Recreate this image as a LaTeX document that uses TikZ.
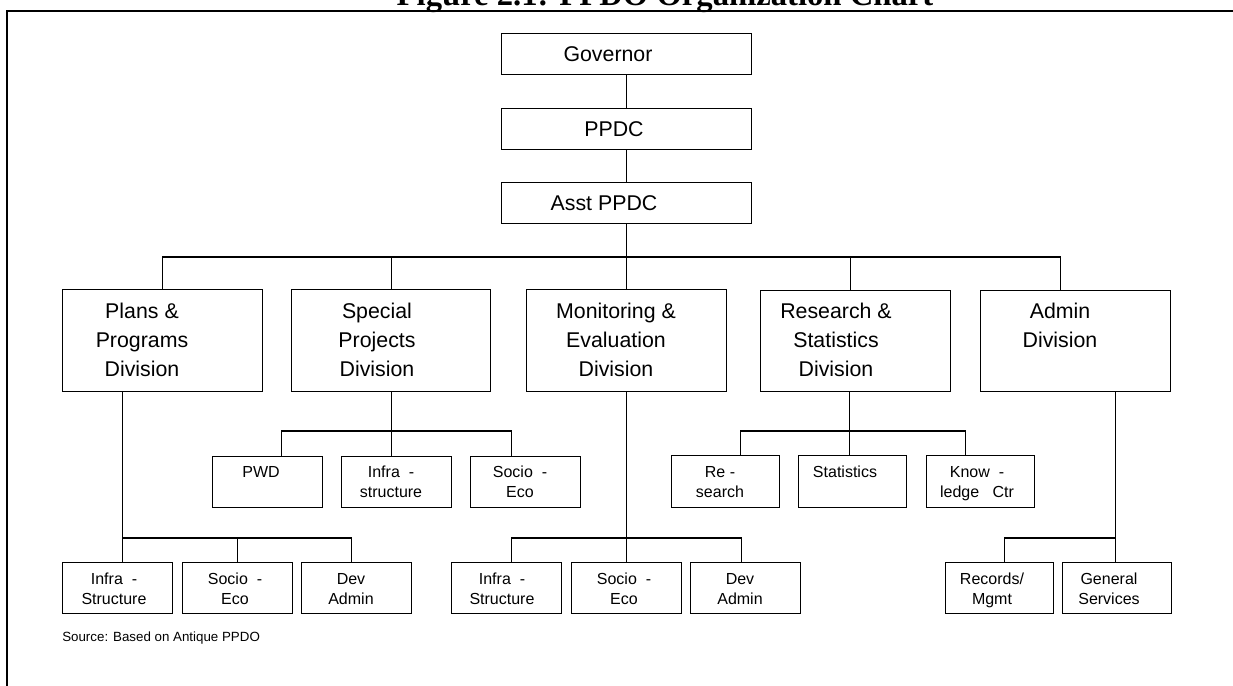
\documentclass[tikz,border=0pt]{standalone}
\usepackage{fontspec}
\setmainfont{Liberation Sans}
\newfontfamily\titlefont{Liberation Serif}
\begin{document}
\begin{tikzpicture}[x=0.75pt,y=-0.75pt,
  box/.style={draw,line width=0.8pt,inner sep=0pt,anchor=north west},
  toptxt/.style={inner sep=0pt,anchor=center,font=\fontsize{16}{22}\selectfont},
  divtxt/.style={inner sep=0pt,anchor=north,align=center,font=\fontsize{16}{22}\selectfont},
  subtxt/.style={inner sep=0pt,anchor=north,align=center,font=\fontsize{12}{15}\selectfont},
  link/.style={line width=0.8pt},
]
\newcommand\orgbox[5]{\node[box,minimum width={(#4-#2)*0.75pt},minimum height={(#5-#3)*0.75pt}] (#1) at (#2,#3) {};}
\useasboundingbox (0,0) rectangle (1233,686);
\clip (0,0) rectangle (1233,686);
% title and frame
\node[inner sep=0pt,anchor=base,font=\titlefont\fontsize{24.5}{28}\selectfont\bfseries] (title) at (665,5.5) {Figure 2.1: PPDO Organization Chart};
\draw[line width=1.9pt] (7,690) -- (7,11) -- (1240,11);
% top boxes
\orgbox{gov}{501}{33}{751}{74}
\orgbox{ppdc}{501}{108}{751}{149}
\orgbox{asst}{501}{182}{751}{223}
\node[toptxt] (govT) at (608,54) {Governor};
\node[toptxt] (ppdcT) at (614,129) {PPDC};
\node[toptxt] (asstT) at (604,203) {Asst PPDC};
% divisions
\orgbox{plans}{62}{289}{262}{391}
\orgbox{special}{291}{289}{490}{391}
\orgbox{me}{526}{289}{726}{391}
\orgbox{research}{760}{290}{950}{391}
\orgbox{admin}{980}{290}{1170}{391}
\node[divtxt] (plansT) at (142,302.5) {Plans \&\\Programs\\Division};
\node[divtxt] (specialT) at (377,302.5) {Special\\Projects\\Division};
\node[divtxt] (meT) at (616,302.5) {Monitoring \&\\Evaluation\\Division};
\node[divtxt] (researchT) at (836,302.5) {Research \&\\Statistics\\Division};
\node[divtxt] (adminT) at (1060,302.5) {Admin\\Division};
% special subs
\orgbox{spP}{212}{456}{322}{507}
\orgbox{spI}{341}{456}{451}{507}
\orgbox{spS}{470}{456}{580}{507}
\node[subtxt] (spPT) at (261,466) {PWD};
\node[subtxt] (spIT) at (391,466) {Infra\ \ -\\structure};
\node[subtxt] (spST) at (520,466) {Socio\ \ -\\Eco};
% research subs
\orgbox{rsR}{671}{455}{779}{507}
\orgbox{rsS}{798}{455}{906}{507}
\orgbox{rsK}{926}{455}{1034}{507}
\node[subtxt] (rsRT) at (720,466) {Re -\\search};
\node[subtxt] (rsST) at (845,466) {Statistics};
\node[subtxt] (rsKT) at (977,466) {Know\ \ -\\ledge\ \ \ Ctr};
% plans subs
\orgbox{pI}{62}{562}{172}{613}
\orgbox{pS}{182}{562}{292}{613}
\orgbox{pD}{301}{562}{411}{613}
\node[subtxt] (pIT) at (114,573) {Infra\ \ -\\Structure};
\node[subtxt] (pST) at (235,573) {Socio\ \ -\\Eco};
\node[subtxt] (pDT) at (351,573) {Dev\\Admin};
% M&E subs
\orgbox{mI}{451}{562}{561}{613}
\orgbox{mS}{571}{562}{681}{613}
\orgbox{mD}{690}{562}{800}{613}
\node[subtxt] (mIT) at (502,573) {Infra\ \ -\\Structure};
\node[subtxt] (mST) at (624,573) {Socio\ \ -\\Eco};
\node[subtxt] (mDT) at (740,573) {Dev\\Admin};
% admin subs
\orgbox{aR}{945}{562}{1053}{613}
\orgbox{aG}{1062}{562}{1171}{613}
\node[subtxt] (aRT) at (992,573) {Records/\\Mgmt};
\node[subtxt] (aGT) at (1109,573) {General\\Services};
% source
\node[inner sep=0pt,anchor=base west,font=\fontsize{10}{12}\selectfont] (src) at (62,641) {Source: Based on Antique PPDO};
% bus levels
\coordinate (yA) at (0,257);
\coordinate (yB) at (0,431);
\coordinate (yC) at (0,538);
% attachment points
\coordinate (rsN) at ([xshift=-3.75pt]research.north);
\coordinate (adN) at ([xshift=-11.25pt]admin.north);
\coordinate (plS) at ([xshift=-30pt]plans.south);
\coordinate (rsSo) at ([xshift=-4.5pt]research.south);
\coordinate (adS) at ([xshift=30pt]admin.south);
% connectors
\draw[link] (gov.south) -- (ppdc.north);
\draw[link] (ppdc.south) -- (asst.north);
\draw[link] (asst.south) -- (me.north);
\draw[link] (plans.north) |- (yA -| asst.south) -| (adN);
\draw[link] (special.north) -- (special.north |- yA);
\draw[link] (rsN) -- (rsN |- yA);
% special
\draw[link] (special.south) -- (spI.north -| special.south);
\draw[link] ([xshift=10.5pt]spP.north) |- (yB -| special.south) -| ([xshift=-10.5pt]spS.north);
% research
\draw[link] (rsSo) -- (rsS.north -| rsSo);
\draw[link] ([xshift=11.25pt]rsR.north) |- (yB -| rsSo) -| ([xshift=-11.25pt]rsK.north);
% plans
\draw[link] (plS) -- (pI.north -| plS);
\draw[link] (plS |- yC) -| ([xshift=-3.75pt]pD.north);
\draw[link] (pS.north) -- (pS.north |- yC);
% M&E
\draw[link] (me.south) -- (mS.north);
\draw[link] ([xshift=3.75pt]mI.north) |- (yC -| me.south) -| ([xshift=-3pt]mD.north);
% admin
\draw[link] (adS) -- (aG.north -| adS);
\draw[link] ([xshift=3.75pt]aR.north) |- (yC -| adS);
\end{tikzpicture}
\end{document}
